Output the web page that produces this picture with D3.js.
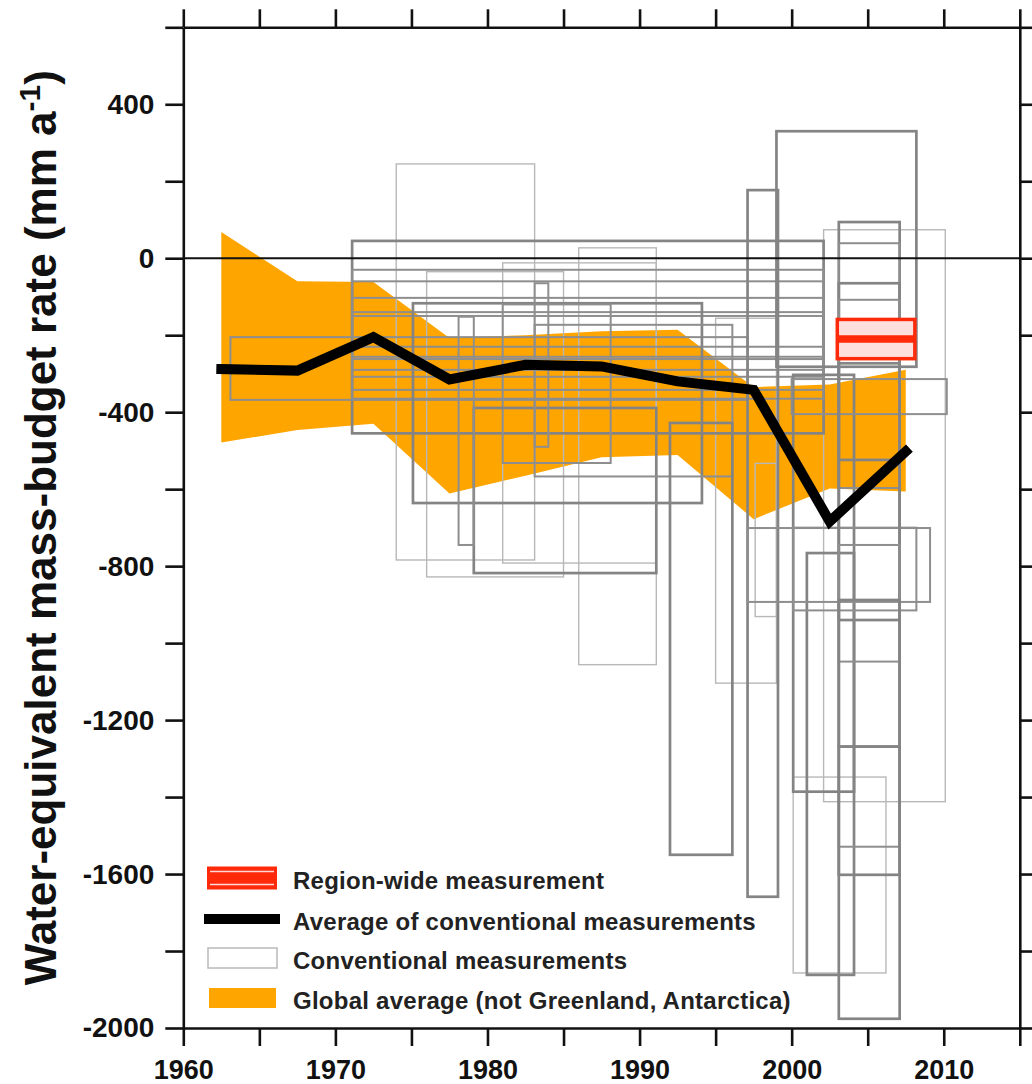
<!DOCTYPE html>
<html>
<head>
<meta charset="utf-8">
<script src="https://cdn.jsdelivr.net/npm/d3@7"></script>
<style>
body { margin: 0; background: #fff; }
svg { display: block; font-family: "Liberation Sans", Arial, Helvetica, sans-serif; font-weight: bold; }
</style>
</head>
<body>
<div id="viz"></div>
<script>
"use strict";

// pentad midpoints
const pentads = [1962.5, 1967.5, 1972.5, 1977.5, 1982.5, 1987.5, 1992.5, 1997.5, 2002.5, 2007.5];
const globalUpper = [68, -60, -62, -207, -200, -190, -186, -335, -328, -290];
const globalLower = [-479, -446, -430, -611, -565, -517, -511, -678, -598, -606];
const conventionalAvg = [-288, -292, -205, -315, -277, -281, -320, -342, -684, -502];

// region-wide measurement (period, value, error)
const regionPeriod = [2003.0, 2008.1];
const regionValue = -210;
const regionError = 51;

// conventional measurements: period and range of each box
const boxStart  = [1974.0, 1986.0, 1981.0, 1976.0, 1995.0, 1997.6, 2002.1, 2000.1,
                   1971.1, 1971.1, 1971.1, 1971.1, 1971.1, 1971.1, 1971.1, 1963.1,
                   1975.1, 1981.0, 1979.1, 1978.1, 1983.1, 1983.1, 1992.0, 1997.1,
                   1999.0, 2000.1, 2001.0, 1997.1, 2000.1, 2000.0,
                   2003.1, 2003.1, 2003.1, 2003.1, 2003.1, 2003.1, 2003.1, 2003.1];
const boxEnd    = [1983.1, 1991.1, 1991.1, 1985.0, 1999.0, 1999.0, 2010.1, 2006.2,
                   2002.1, 2002.1, 2002.1, 2002.1, 2002.1, 2002.1, 2002.1, 1997.1,
                   1994.1, 1988.1, 1991.1, 1979.1, 1984.0, 1996.1, 1996.1, 1999.1,
                   2008.2, 2004.1, 2004.1, 2009.1, 2008.2, 2010.2,
                   2007.1, 2007.1, 2007.1, 2007.1, 2007.1, 2007.1, 2007.1, 2007.1];
const boxTop    = [245, 27, -12, -35, -156, -533, 74, -1348,
                   45, -30, -60, -103, -140, -150, -230, -205,
                   -117, -120, -389, -152, -65, -173, -428, 177,
                   330, -303, -766, -701, -700, -314,
                   94, 39, -65, -108, -273, -745, -888, -1269];
const boxBottom = [-784, -1056, -792, -828, -1104, -931, -1412, -1857,
                   -455, -365, -342, -308, -290, -256, -262, -368,
                   -636, -532, -818, -745, -490, -567, -1550, -1659,
                   -282, -1386, -1862, -893, -915, -405,
                   -524, -597, -940, -1048, -1269, -1529, -1602, -1976];
const boxClass  = ["light", "light", "light", "light", "light", "light", "light", "light",
                   "heavy", "medium", "medium", "medium", "medium", "medium", "medium", "medium",
                   "heavy", "medium", "heavy", "medium", "medium", "medium", "heavy", "heavy",
                   "heavy", "heavy", "heavy", "medium", "medium", "medium",
                   "heavy", "medium", "heavy", "medium", "heavy", "medium", "heavy", "heavy"];

const xTicks = [1960, 1965, 1970, 1975, 1980, 1985, 1990, 1995, 2000, 2005, 2010, 2015];
const xTickLabels = [1960, 1970, 1980, 1990, 2000, 2010];
const yTicks = [-2000, -1800, -1600, -1400, -1200, -1000, -800, -600, -400, -200, 0, 200, 400, 600];
const yTickLabels = [-2000, -1600, -1200, -800, -400, 0, 400];

const legendLabels = ["Region-wide measurement", "Average of conventional measurements",
                      "Conventional measurements", "Global average (not Greenland, Antarctica)"];

const vizWidth = 1032, vizHeight = 1084;
const plotLeft = 183.3, plotRight = 1019.8, plotTop = 27.3, plotBottom = 1028;

const svg = d3.select("#viz").append("svg")
    .attr("width", vizWidth)
    .attr("height", vizHeight);

const x = d3.scaleLinear().domain([1960, 2015]).range([plotLeft, plotRight]);
const y = d3.scaleLinear().domain([-2000, 600]).range([plotBottom, plotTop]);

// global average band
const band = d3.area()
    .x((d, i) => x(pentads[i]))
    .y0((d, i) => y(globalLower[i]))
    .y1((d, i) => y(globalUpper[i]));

svg.append("path")
   .datum(pentads)
   .attr("d", band)
   .attr("fill", "#ffa500");

// conventional measurement boxes
const boxStyle = {
    light:  { stroke: "#b8b8b8", width: 1.4 },
    medium: { stroke: "#8e8e8e", width: 2.0 },
    heavy:  { stroke: "#848484", width: 2.7 }
};

svg.append("g")
   .selectAll("rect")
   .data(boxStart.map((s, i) => i))
   .enter()
   .append("rect")
   .attr("x", i => x(boxStart[i]))
   .attr("y", i => y(boxTop[i]))
   .attr("width", i => x(boxEnd[i]) - x(boxStart[i]))
   .attr("height", i => y(boxBottom[i]) - y(boxTop[i]))
   .attr("fill", "none")
   .attr("stroke", i => boxStyle[boxClass[i]].stroke)
   .attr("stroke-width", i => boxStyle[boxClass[i]].width);

// zero line
svg.append("line")
   .attr("x1", x(1960)).attr("x2", x(2015))
   .attr("y1", y(0)).attr("y2", y(0))
   .attr("stroke", "#111")
   .attr("stroke-width", 2.2);

// region-wide measurement
svg.append("rect")
   .attr("x", x(regionPeriod[0]))
   .attr("y", y(regionValue + regionError))
   .attr("width", x(regionPeriod[1]) - x(regionPeriod[0]))
   .attr("height", y(regionValue - regionError) - y(regionValue + regionError))
   .attr("fill", "#ffdede")
   .attr("stroke", "#ff2a0a")
   .attr("stroke-width", 3.5);

svg.append("line")
   .attr("x1", x(regionPeriod[0])).attr("x2", x(regionPeriod[1]))
   .attr("y1", y(regionValue)).attr("y2", y(regionValue))
   .attr("stroke", "#ff2a0a")
   .attr("stroke-width", 7.5);

// average of conventional measurements
const avgLine = d3.line()
    .x((d, i) => x(pentads[i]))
    .y((d, i) => y(conventionalAvg[i]));

svg.append("path")
   .datum(pentads)
   .attr("d", avgLine)
   .attr("fill", "none")
   .attr("stroke", "#000")
   .attr("stroke-width", 10)
   .attr("stroke-linejoin", "miter")
   .attr("stroke-linecap", "square");

// axes
function styleAxis(g, size) {
    g.select(".domain").attr("stroke", "#111").attr("stroke-width", 2.6);
    g.selectAll(".tick line").attr("stroke", "#111").attr("stroke-width", 2.6);
    g.selectAll(".tick text")
     .attr("fill", "#111")
     .attr("font-size", size + "px")
     .attr("font-weight", "bold")
     .attr("font-family", "'Liberation Sans', Arial, Helvetica, sans-serif");
}

svg.append("g")
   .attr("transform", `translate(0,${plotBottom})`)
   .call(d3.axisBottom(x).tickValues(xTicks).tickSize(18).tickSizeOuter(0).tickPadding(14)
         .tickFormat(d => xTickLabels.includes(d) ? String(d) : ""))
   .call(styleAxis, 27);

svg.append("g")
   .attr("transform", `translate(0,${plotTop})`)
   .call(d3.axisTop(x).tickValues(xTicks).tickSize(18).tickSizeOuter(0).tickFormat(""))
   .call(styleAxis, 27);

svg.append("g")
   .attr("transform", `translate(${plotLeft},0)`)
   .call(d3.axisLeft(y).tickValues(yTicks).tickSize(18).tickSizeOuter(0).tickPadding(11)
         .tickFormat(d => yTickLabels.includes(d) ? String(d) : ""))
   .call(styleAxis, 28);

svg.append("g")
   .attr("transform", `translate(${plotRight},0)`)
   .call(d3.axisRight(y).tickValues(yTicks).tickSize(18).tickSizeOuter(0).tickFormat(""))
   .call(styleAxis, 28);

// y axis title
const title = svg.append("text")
   .attr("transform", `translate(56,${(plotTop + plotBottom) / 2}) rotate(-90)`)
   .attr("text-anchor", "middle")
   .attr("font-size", "44px")
   .attr("fill", "#111");
title.append("tspan").text("Water-equivalent mass-budget rate (mm a");
title.append("tspan").attr("font-size", "30px").attr("dy", "-16").text("-1");
title.append("tspan").attr("dy", "16").text(")");

// legend
const legend = svg.append("g");
const legendY = [878, 919, 958, 998];
const swX0 = 207, swX1 = 277;

legend.append("rect")
   .attr("x", swX0).attr("y", legendY[0] - 11.5)
   .attr("width", swX1 - swX0).attr("height", 23)
   .attr("fill", "#ff2a0a");
[-6.5, 6.5].forEach(off => {
    legend.append("line")
       .attr("x1", swX0 + 3).attr("x2", swX1 - 3)
       .attr("y1", legendY[0] + off).attr("y2", legendY[0] + off)
       .attr("stroke", "#ffd8d8").attr("stroke-width", 1.5);
});

legend.append("line")
   .attr("x1", 204).attr("x2", 280)
   .attr("y1", legendY[1]).attr("y2", legendY[1])
   .attr("stroke", "#000").attr("stroke-width", 10);

legend.append("rect")
   .attr("x", swX0 + 1).attr("y", legendY[2] - 10)
   .attr("width", swX1 - swX0 - 1).attr("height", 20)
   .attr("fill", "#fff").attr("stroke", "#bdbdbd").attr("stroke-width", 1.6);

legend.append("rect")
   .attr("x", swX0 + 2).attr("y", legendY[3] - 10)
   .attr("width", swX1 - swX0 - 3).attr("height", 20)
   .attr("fill", "#ffa500");

legend.selectAll("text.lab")
   .data(legendLabels)
   .enter()
   .append("text")
   .attr("class", "lab")
   .attr("x", 293)
   .attr("y", (d, i) => legendY[i] + 10.5)
   .attr("font-size", "24px")
   .attr("letter-spacing", "0.25px")
   .attr("fill", "#222")
   .text(d => d);
</script>
</body>
</html>
